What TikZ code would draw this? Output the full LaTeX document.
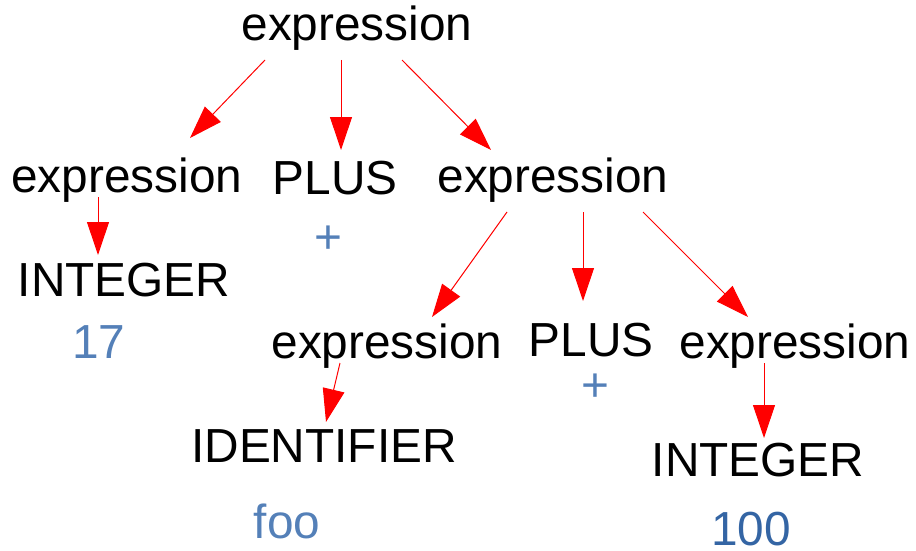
\documentclass[tikz,border=0pt]{standalone}
\usepackage{fontspec}
\setmainfont{Liberation Sans}
\usetikzlibrary{arrows.meta,calc}
\definecolor{valblue}{RGB}{84,128,184}
\definecolor{valdark}{RGB}{52,101,164}
\tikzset{
  sym/.style={anchor=base,inner sep=0pt,font=\fontsize{47.8}{57}\selectfont},
  val/.style={sym,text=valblue},
  arr/.style={red,line width=1pt,-{Triangle[length=33pt,width=22pt]}}
}
\begin{document}
\begin{tikzpicture}[x=1pt,y=-1pt]
\useasboundingbox (0,0) rectangle (916,551);
\node[sym] (e0) at (357,41) {expression};
\node[sym] (e1) at (127,192) {expression};
\node[sym] (p1) at (335,194) {PLUS};
\node[sym] (e2) at (553,192) {expression};
\node[val] (plus1) at (328,253) {+};
\node[sym] (i1) at (124,296) {INTEGER};
\node[val] (v17) at (99,358) {17};
\node[sym] (e3) at (387,358) {expression};
\node[sym] (p2) at (591,356) {PLUS};
\node[val] (plus2) at (595,401) {+};
\node[sym] (e4) at (795,358) {expression};
\node[sym] (id) at (324,462) {IDENTIFIER};
\node[val] (foo) at (287,538) {foo};
\node[sym] (i2) at (758,476) {INTEGER};
\node[sym,text=valdark] (v100) at (751,545) {100};
\draw[arr] ($(e0.base)+(-92,19)$) -- ($(e1.base)+(63,-54)$);
\draw[arr] ($(e0.base)+(-16,19)$) -- ($(p1.base)+(6,-44)$);
\draw[arr] ($(e0.base)+(45,19)$) -- ($(e2.base)+(-62,-42)$);
\draw[arr] ($(e1.base)+(-29,5)$) -- ($(i1.base)+(-26,-41)$);
\draw[arr] ($(e2.base)+(-46,20)$) -- ($(e3.base)+(45,-41)$);
\draw[arr] ($(e2.base)+(30,20)$) -- ($(p2.base)+(-8,-55)$);
\draw[arr] ($(e2.base)+(90,20)$) -- ($(e4.base)+(-47,-41)$);
\draw[arr] ($(e3.base)+(-47,5)$) -- ($(id.base)+(2,-40)$);
\draw[arr] ($(e4.base)+(-31,5)$) -- ($(i2.base)+(6,-38)$);
\end{tikzpicture}
\end{document}
